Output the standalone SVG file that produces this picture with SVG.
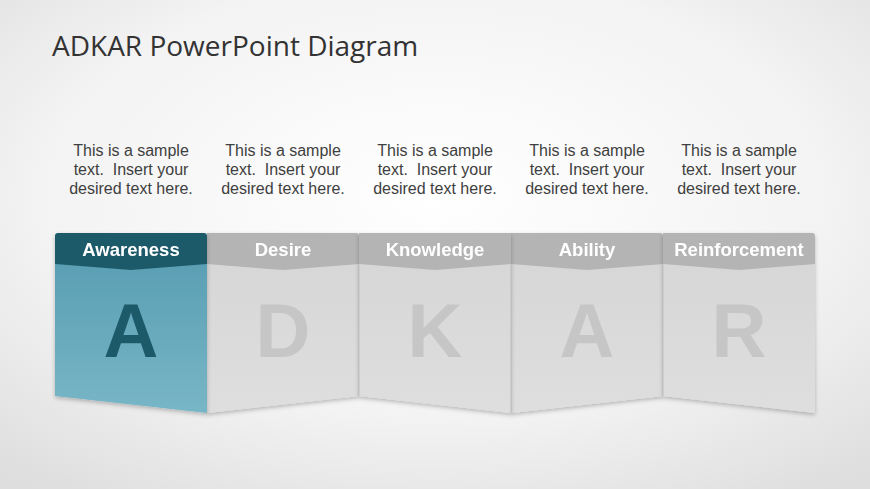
<svg xmlns="http://www.w3.org/2000/svg" width="870" height="489" viewBox="0 0 870 489">
<defs>
<radialGradient id="bg" cx="0.5" cy="0.4" r="0.75">
<stop offset="0" stop-color="#ffffff"/>
<stop offset="0.6" stop-color="#f3f3f3"/>
<stop offset="1" stop-color="#dedede"/>
</radialGradient>
<linearGradient id="teal" x1="0" y1="0" x2="0" y2="1">
<stop offset="0" stop-color="#5b9fb4"/>
<stop offset="1" stop-color="#77b6c6"/>
</linearGradient>
<linearGradient id="gray" x1="0" y1="0" x2="0" y2="1">
<stop offset="0" stop-color="#d7d7d7"/>
<stop offset="1" stop-color="#dedede"/>
</linearGradient>
<filter id="sh" x="-10%" y="-10%" width="120%" height="130%">
<feDropShadow dx="0" dy="2" stdDeviation="2" flood-color="#000" flood-opacity="0.25"/>
</filter>
</defs>
<style>
.desc{font-family:"Liberation Sans",Arial,sans-serif;font-size:16px;fill:#404040;text-anchor:middle;white-space:pre}
.hd{font-family:"Liberation Sans",Arial,sans-serif;font-size:18.5px;font-weight:bold;fill:#ffffff;text-anchor:middle}
.big{font-family:"Liberation Sans",Arial,sans-serif;font-size:76px;font-weight:bold;text-anchor:middle}
.gbody{fill:url(#gray)}
.ghead{fill:#b4b4b4}
.gl{fill:#c6c6c6}
.sep{stroke:#bdbdbd;stroke-width:1}
</style>
<rect width="870" height="489" fill="url(#bg)"/>
<text x="52" y="56" font-family="Open Sans, Liberation Sans, sans-serif" font-size="28" fill="#333333">ADKAR PowerPoint Diagram</text>

<g id="descriptions" xml:space="preserve">
<text class="desc" x="131" y="156">This is a sample<tspan x="131" dy="19">text.  Insert your</tspan><tspan x="131" dy="19">desired text here.</tspan></text>
<text class="desc" x="283" y="156">This is a sample<tspan x="283" dy="19">text.  Insert your</tspan><tspan x="283" dy="19">desired text here.</tspan></text>
<text class="desc" x="435" y="156">This is a sample<tspan x="435" dy="19">text.  Insert your</tspan><tspan x="435" dy="19">desired text here.</tspan></text>
<text class="desc" x="587" y="156">This is a sample<tspan x="587" dy="19">text.  Insert your</tspan><tspan x="587" dy="19">desired text here.</tspan></text>
<text class="desc" x="739" y="156">This is a sample<tspan x="739" dy="19">text.  Insert your</tspan><tspan x="739" dy="19">desired text here.</tspan></text>
</g>

<g id="node-desire" filter="url(#sh)">
<path class="gbody" d="M207 262 L359 262 L359 396 L207 413 Z"/>
<path class="ghead" d="M207 233 L356 233 Q359 233 359 236 L359 264 L283 270 L207 264 Z"/>
<text class="hd" x="283" y="256">Desire</text>
<text class="big gl" x="283" y="357">D</text>
</g>
<g id="node-ability" filter="url(#sh)">
<path class="gbody" d="M511 262 L663 262 L663 396 L511 413 Z"/>
<path class="ghead" d="M511 233 L660 233 Q663 233 663 236 L663 264 L587 270 L511 264 Z"/>
<text class="hd" x="587" y="256">Ability</text>
<text class="big gl" x="587" y="357">A</text>
</g>
<g id="node-knowledge" filter="url(#sh)">
<path class="gbody" d="M359 262 L511 262 L511 413 L359 396 Z"/>
<path class="ghead" d="M359 233 L511 233 L511 264 L435 270 L359 264 Z"/>
<text class="hd" x="435" y="256">Knowledge</text>
<text class="big gl" x="435" y="357">K</text>
</g>
<g id="node-reinforcement" filter="url(#sh)">
<path class="gbody" d="M663 262 L815 262 L815 413 L663 396 Z"/>
<path class="ghead" d="M663 233 L812 233 Q815 233 815 236 L815 264 L739 270 L663 264 Z"/>
<text class="hd" x="739" y="256">Reinforcement</text>
<text class="big gl" x="739" y="357">R</text>
</g>
<g id="node-awareness" filter="url(#sh)">
<path d="M55 262 L207 262 L207 413 L55 396 Z" fill="url(#teal)"/>
<path d="M58 233 L204 233 Q207 233 207 236 L207 264 L131 270 L55 264 L55 236 Q55 233 58 233 Z" fill="#1e5a6b"/>
<text class="hd" x="131" y="256">Awareness</text>
<text class="big" x="131" y="357" fill="#1e5a6b">A</text>
</g>
<g id="connectors">
<line class="sep" x1="359" y1="264" x2="359" y2="396"/>
<line class="sep" x1="511" y1="264" x2="511" y2="413"/>
<line class="sep" x1="663" y1="264" x2="663" y2="396"/>
</g>
</svg>
